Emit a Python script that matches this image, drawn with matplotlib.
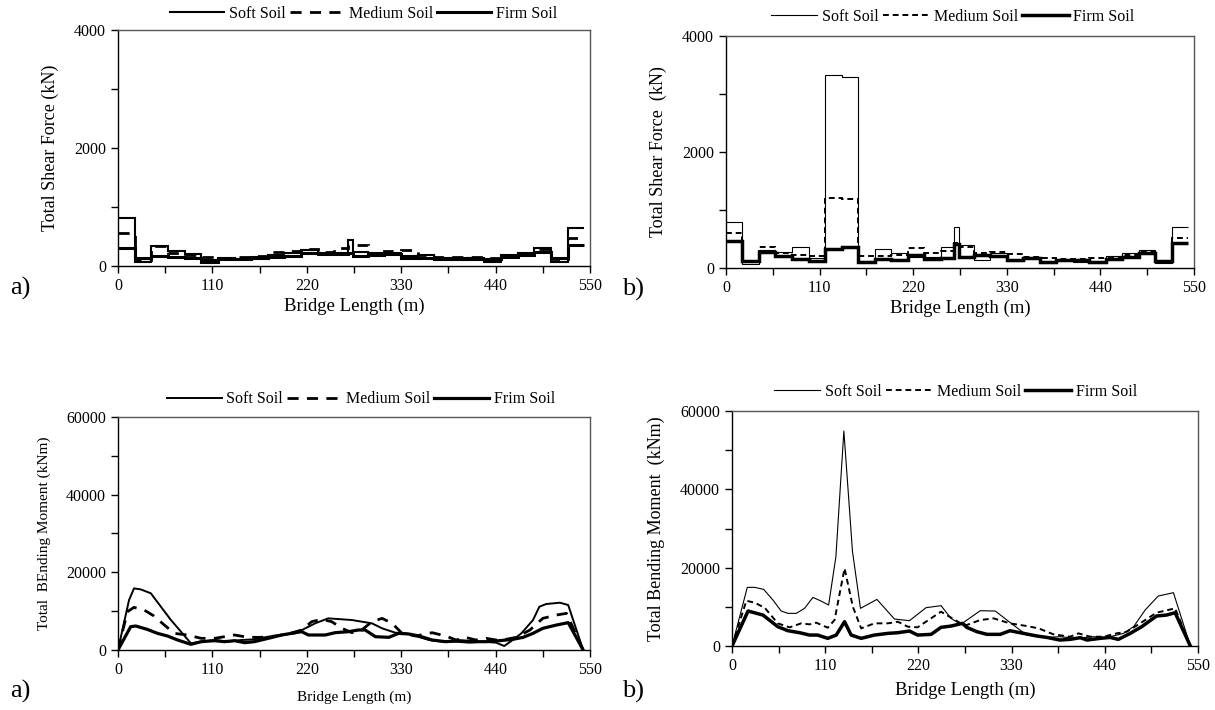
import matplotlib
matplotlib.use("Agg")
import matplotlib.pyplot as plt
from matplotlib.ticker import MultipleLocator

plt.rcParams['font.family'] = 'serif'
plt.rcParams['font.serif'] = ['Liberation Serif', 'DejaVu Serif']

# ---- shear force data (step values per span) ----
span_edges = [0, 19.4, 38.8, 58.2, 77.6, 97.0, 116.4, 135.8, 155.2, 174.6, 194.0,
              213.4, 232.8, 252.2, 268.0, 274.0, 291.0, 310.4, 329.8, 349.2, 368.6,
              388.0, 407.4, 426.8, 446.2, 465.6, 485.0, 504.4, 523.8, 543.2]

shear_a_soft = [808, 62, 345, 260, 203, 100, 140, 119, 158, 186, 215, 271, 215, 215, 440,
                243, 215, 226, 175, 186, 141, 100, 130, 62, 186, 215, 300, 62, 638]
shear_a_medium = [554, 100, 330, 226, 186, 158, 140, 147, 175, 232, 254, 282, 243, 311, 356,
                  356, 186, 260, 271, 186, 158, 158, 158, 130, 186, 226, 282, 119, 469]
shear_a_firm = [300, 130, 175, 158, 130, 73, 119, 113, 130, 158, 175, 215, 198, 198, 215,
                175, 186, 198, 141, 141, 119, 130, 119, 119, 158, 186, 243, 130, 356]

shear_b_soft = [788, 69, 310, 282, 368, 167, 3330, 3290, 120, 322, 265, 195, 195, 356, 713,
                397, 138, 253, 127, 167, 80, 138, 109, 92, 207, 253, 310, 80, 700]
shear_b_medium = [598, 110, 356, 253, 224, 207, 1200, 1190, 207, 213, 224, 340, 253, 293, 430,
                  356, 265, 282, 241, 195, 167, 155, 155, 167, 178, 224, 282, 127, 517]
shear_b_firm = [471, 120, 270, 213, 150, 120, 333, 356, 110, 155, 138, 218, 150, 167, 420,
                195, 224, 207, 138, 178, 109, 138, 138, 109, 155, 195, 265, 127, 436]

# ---- bending moment data ----
mom_a_soft_x = [0, 12.9, 18.7, 26.6, 38.3, 50, 61.7, 73.4, 85, 96.9, 112.5, 128, 143.7, 159,
                175, 190.6, 206, 216, 229.7, 245, 261, 272.6, 284, 296, 307.8, 323, 335, 347,
                362.5, 378, 394, 409, 425, 440.6, 450, 460, 470, 483.6, 491, 499, 515, 524.6, 542]
mom_a_soft = [0, 12870, 15870, 15600, 14600, 11150, 7720, 4720, 1716, 2145, 2574, 2145, 2574,
              2746, 3430, 3860, 4290, 5320, 6864, 8150, 7900, 7720, 7300, 6860, 5580, 4460, 4290,
              3600, 2574, 2145, 2145, 1890, 2145, 1890, 1030, 2574, 4290, 7720, 11150, 11840,
              12180, 11580, 0]
mom_a_medium_x = [0, 11, 18.7, 30.5, 42, 54, 65.6, 81, 97, 112.5, 124, 136, 151.6, 167, 183,
                  198, 214, 225.8, 237.5, 249, 261, 272.6, 284, 296, 307.8, 319.5, 331, 347,
                  366, 382, 394, 405, 417, 429, 440.6, 452, 464, 480, 495, 511, 522.6, 542]
mom_a_medium = [0, 9870, 10980, 10300, 8750, 6435, 4290, 3860, 3000, 3000, 3430, 3860, 3260,
                3260, 3600, 4120, 5150, 7300, 7900, 7300, 5580, 4460, 5150, 7300, 8150, 6860,
                4290, 3600, 4460, 3600, 2574, 3260, 2574, 3000, 2574, 2746, 3260, 5150, 8150,
                9010, 9440, 0]
mom_a_firm_x = [0, 14.8, 20.7, 34, 46, 57.8, 69.5, 85, 97, 112.5, 124, 136, 147.6, 159, 175,
                190.6, 202, 214, 222, 241.4, 253, 268.7, 280, 288, 300, 315.6, 327, 339, 351,
                366, 382, 397.6, 413, 429, 444.5, 460, 472, 483.6, 495, 511, 524.6, 542]
mom_a_firm = [0, 6000, 6180, 5320, 4290, 3600, 2574, 1460, 2145, 2400, 2145, 2400, 1890, 2145,
              3000, 3860, 4290, 4720, 3860, 3860, 4460, 4720, 5150, 5150, 3430, 3260, 4290,
              4120, 3600, 2574, 2145, 2400, 2145, 2145, 2400, 2746, 3260, 4290, 5580, 6435,
              7040, 0]

mom_b_soft_x = [0, 18, 26.7, 37.3, 48.3, 58, 66, 75.8, 85.6, 95.5, 105, 114, 122.6, 132,
                142.2, 151.6, 171, 191.7, 209.4, 229, 246.7, 258.5, 270, 293, 310.8, 332, 348,
                371.6, 387, 407, 426.6, 442, 462, 474, 487.6, 503, 521, 541]
mom_b_soft = [0, 14980, 14980, 14470, 11740, 8935, 8340, 8340, 9620, 12420, 11490, 10470,
              22800, 54900, 24080, 9620, 11900, 6890, 6470, 9790, 10300, 7060, 5530, 9020,
              8935, 5360, 2800, 2200, 2380, 1960, 2380, 2130, 3230, 4940, 9190, 12760, 13620, 0]
mom_b_medium_x = [0, 16.9, 26.7, 38.5, 54, 68, 81.7, 91.5, 99.4, 113, 121, 132.8, 142.6,
                  152.4, 168, 184, 195.7, 207.4, 219, 233, 246.7, 256.6, 270, 277, 293, 308.8,
                  328, 348, 361.8, 379.5, 399, 409, 422.7, 438.4, 454, 466, 481.7, 501, 523, 541]
mom_b_medium = [0, 11570, 11060, 9790, 5790, 4770, 5790, 5530, 5960, 4680, 6640, 19830, 10040,
                4510, 5790, 5790, 6210, 4940, 4770, 6800, 8765, 7490, 5790, 5360, 6640, 7060,
                5790, 5100, 4510, 2980, 2380, 3230, 2380, 2380, 3230, 3660, 5790, 8510, 9620, 0]
mom_b_firm_x = [0, 18.9, 36.5, 54, 66, 79.8, 91.5, 101, 113, 123, 132.8, 140.6, 152.4, 168,
                184, 195.7, 209.4, 219, 235, 246.7, 258.5, 272, 277, 289, 301, 316.6, 328, 344,
                360, 371.6, 387, 399, 411, 419, 434.5, 446.3, 456, 470, 483.6, 501, 513, 523, 541]
mom_b_firm = [0, 8935, 7910, 4940, 3910, 3400, 2800, 2800, 1960, 2800, 6210, 2800, 1960, 2800,
              3230, 3400, 3830, 2800, 2980, 4770, 5100, 5790, 4770, 3660, 2980, 2980, 3910,
              3230, 2550, 2200, 1530, 1700, 2130, 1530, 1960, 2200, 1700, 3230, 4940, 7660,
              7910, 8510, 0]


def style_axes(ax, ymax, ystep, ylabel, ylabel_size, xlabel_size, xpad=3):
    ax.set_xlim(0, 550)
    ax.set_ylim(0, ymax)
    ax.xaxis.set_major_locator(MultipleLocator(110))
    ax.xaxis.set_minor_locator(MultipleLocator(55))
    ax.yaxis.set_major_locator(MultipleLocator(ystep))
    ax.yaxis.set_minor_locator(MultipleLocator(ystep / 2))
    ax.tick_params(which='both', direction='out', length=5, width=1,
                   labelsize=11.5, top=False, right=False)
    for side in ['top', 'right']:
        ax.spines[side].set_color('#555555')
    for sp in ax.spines.values():
        sp.set_linewidth(1)
    ax.set_ylabel(ylabel, fontsize=ylabel_size, labelpad=11)
    ax.set_xlabel('Bridge Length (m)', fontsize=xlabel_size, labelpad=xpad)


def add_legend(ax, xc, hlen, pad):
    ax.legend(loc='lower center', bbox_to_anchor=(xc, 1.0), ncol=3, frameon=False,
              fontsize=11.5, handlelength=hlen, handletextpad=0.3, columnspacing=0.25,
              borderaxespad=pad)


fig = plt.figure(figsize=(12.15, 7.10), dpi=100)

# a) shear force
ax1 = fig.add_axes([0.0971, 0.6254, 0.3885, 0.3324])
ax1.stairs(shear_a_soft, span_edges, baseline=None, color='black', lw=1.5, label='Soft Soil')
ax1.stairs(shear_a_medium, span_edges, baseline=None, color='black', lw=2,
           linestyle=(0, (4, 3)), label='Medium Soil')
ax1.stairs(shear_a_firm, span_edges, baseline=None, color='black', lw=2.2, label='Firm Soil')
style_axes(ax1, 4000, 2000, 'Total Shear Force (kN)', 13, 13.5)
add_legend(ax1, 0.52, 3.4, 0.1)
fig.text(0.008, 0.585, 'a)', fontsize=19)

# b) shear force
ax2 = fig.add_axes([0.5975, 0.6225, 0.3852, 0.3268])
ax2.stairs(shear_b_soft, span_edges, baseline=None, color='black', lw=0.8, label='Soft Soil')
ax2.stairs(shear_b_medium, span_edges, baseline=None, color='black', lw=1.4,
           linestyle=(0, (3, 2)), label='Medium Soil')
ax2.stairs(shear_b_firm, span_edges, baseline=None, color='black', lw=2.5, label='Firm Soil')
style_axes(ax2, 4000, 2000, 'Total Shear Force  (kN)', 13, 13.5)
add_legend(ax2, 0.485, 2.9, 0.3)
fig.text(0.512, 0.583, 'b)', fontsize=19)

# a) bending moment
ax3 = fig.add_axes([0.0971, 0.0845, 0.3885, 0.3282])
ax3.plot(mom_a_soft_x, mom_a_soft, color='black', lw=1.4, label='Soft Soil')
ax3.plot(mom_a_medium_x, mom_a_medium, color='black', lw=2, dashes=(4, 3), label='Medium Soil')
ax3.plot(mom_a_firm_x, mom_a_firm, color='black', lw=2.3, label='Frim Soil')
style_axes(ax3, 60000, 20000, 'Total  BEnding Moment (kNm)', 11, 11, xpad=9)
add_legend(ax3, 0.515, 3.4, 0.2)
fig.text(0.008, 0.018, 'a)', fontsize=19)

# b) bending moment
ax4 = fig.add_axes([0.6025, 0.0901, 0.3835, 0.331])
ax4.plot(mom_b_soft_x, mom_b_soft, color='black', lw=0.8, label='Soft Soil')
ax4.plot(mom_b_medium_x, mom_b_medium, color='black', lw=1.4, dashes=(3, 2), label='Medium Soil')
ax4.plot(mom_b_firm_x, mom_b_firm, color='black', lw=2.5, label='Firm Soil')
style_axes(ax4, 60000, 20000, 'Total Bending Moment  (kNm)', 13, 13.5, xpad=6)
add_legend(ax4, 0.48, 2.9, 0.3)
fig.text(0.512, 0.018, 'b)', fontsize=19)

fig.savefig('out.png', dpi=100)
